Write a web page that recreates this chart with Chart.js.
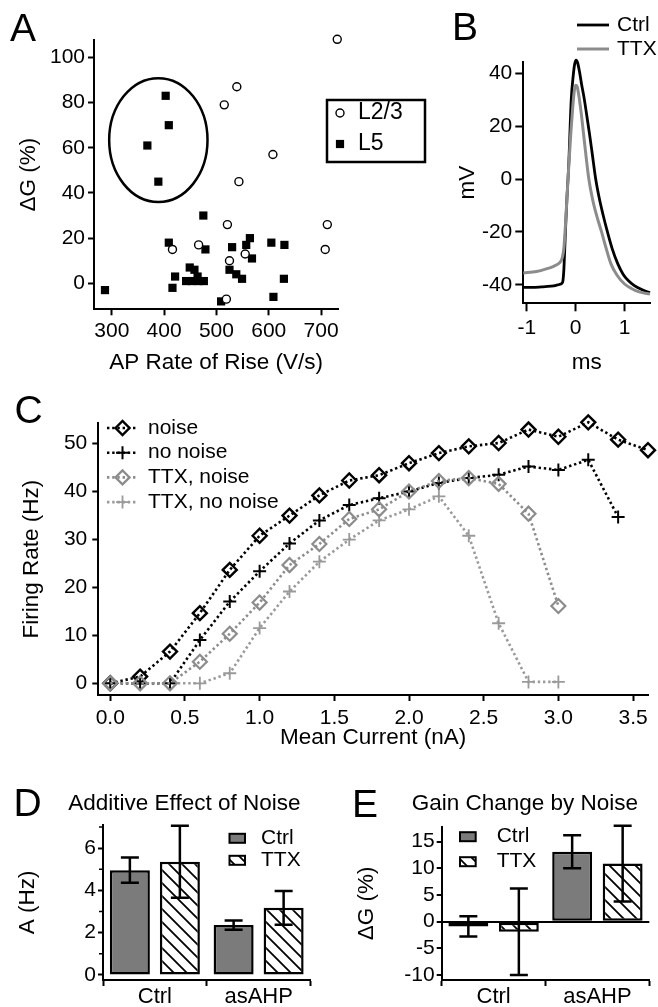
<!DOCTYPE html>
<html><head><meta charset="utf-8">
<script src="https://cdn.jsdelivr.net/npm/chart.js@4.4.0/dist/chart.umd.min.js"></script>
<style>
html,body{margin:0;padding:0;background:#fff;}
#wrap{position:relative;width:658px;height:1007px;overflow:hidden;font-family:'Liberation Sans',Arial,Helvetica,sans-serif;color:#000;}
canvas{position:absolute;}
.lbl{position:absolute;line-height:1;white-space:nowrap;}
</style></head><body>
<div id="wrap">
<canvas id="cA" width="432" height="380" style="left:0px;top:0px"></canvas>
<canvas id="cB" width="218" height="380" style="left:440px;top:0px"></canvas>
<canvas id="cC" width="658" height="380" style="left:0px;top:380px"></canvas>
<canvas id="cD" width="330" height="247" style="left:0px;top:760px"></canvas>
<canvas id="cE" width="323" height="247" style="left:335px;top:760px"></canvas>
<div class="lbl" style="left:10px;top:8px;font-size:39px">A</div>
<div class="lbl" style="left:452px;top:6.6px;font-size:39px">B</div>
<div class="lbl" style="left:14.5px;top:390px;font-size:39px">C</div>
<div class="lbl" style="left:13.6px;top:783px;font-size:39px">D</div>
<div class="lbl" style="left:352px;top:784px;font-size:39px">E</div>
<div class="lbl" style="left:68.3px;top:792.3px;font-size:22.5px">Additive Effect of Noise</div>
<div class="lbl" style="left:411.7px;top:792.3px;font-size:22.5px">Gain Change by Noise</div>
</div>
<script>
// ---------- Panel A data ----------
const aL23X = [731, 539, 515, 608, 543, 521, 712, 708, 416, 466, 525, 555, 519];
const aL23Y = [108, 87, 79, 57, 45, 26, 26, 15, 15, 17, 10, 13, -7];
const aL5X = [403, 409, 368, 389, 475, 409, 479, 530, 557, 564, 568, 605, 630, 525, 538, 549, 629, 609, 509, 287, 421, 416, 449, 458, 464, 442, 453, 466, 476];
const aL5Y = [83, 70, 61, 45, 30, 18, 15, 16, 17, 20, 11, 18, 17, 6, 4, 2, 2, -6, -8, -3, 3, -2, 7, 6, 3, 1, 1, 1, 1];
const aXTicks = [300, 400, 500, 600, 700];
const aYTicks = [0, 20, 40, 60, 80, 100];
// ---------- Panel B data ----------
const bCtrlT = [-1.07,-0.9,-0.7,-0.5,-0.4,-0.32,-0.28,-0.26,-0.24,-0.22,-0.2,-0.18,-0.14,-0.09,-0.05,-0.02,0.01,0.04,0.08,0.12,0.17,0.22,0.28,0.34,0.41,0.48,0.56,0.65,0.75,0.86,0.97,1.08,1.2,1.35,1.52];
const bCtrlV = [-41,-41,-40.8,-40.5,-40.2,-39.8,-39.4,-38.5,-34,-25,-16,-8,6,30,39,43.5,45,44,40.5,36,31,25,17.5,9.5,0,-7,-13.5,-20,-26.5,-32,-36,-38.5,-40.3,-41.8,-43];
const bTtxT = [-1.07,-0.8,-0.6,-0.45,-0.35,-0.3,-0.27,-0.24,-0.21,-0.18,-0.14,-0.1,-0.06,-0.03,0.0,0.03,0.07,0.12,0.18,0.27,0.35,0.44,0.53,0.62,0.72,0.85,1.0,1.15,1.3,1.52];
const bTtxV = [-35.5,-35,-34,-33,-32,-31,-29.5,-26,-18,-8,5,17,27,33,35.5,35,31,24,14,0,-8,-14.5,-20,-26,-32,-36.5,-39.7,-41.5,-42.7,-43.5];
const bXTicks = [-1, 0, 1];
const bYTicks = [-40, -20, 0, 20, 40];
// ---------- Panel C data ----------
const cCurrent = [0,0.2,0.4,0.6,0.8,1.0,1.2,1.4,1.6,1.8,2.0,2.2,2.4,2.6,2.8,3.0,3.2,3.4,3.6];
const cNoise = [0,1.4,6.6,14.6,23.6,30.7,34.9,39.1,42.2,43.3,45.8,47.9,49.3,50.0,52.8,51.3,54.3,50.7,48.5];
const cNoNoise = [0,0,0,9,17.0,23.3,29.1,33.9,37.1,38.5,39.9,41.7,42.7,43.4,45.1,44.4,46.5,34.6];
const cTtxNoise = [0,0,0,4.5,10.3,16.8,24.6,29.0,34.2,36.2,39.9,42.1,42.7,41.5,35.3,16.1];
const cTtxNoNoise = [0,0,0,0,2.1,11.5,19.1,25.3,29.9,33.9,36.2,38.9,30.7,12.5,0.3,0.3];
const cXTicks = [0,0.5,1.0,1.5,2.0,2.5,3.0,3.5];
const cYTicks = [0,10,20,30,40,50];
// ---------- Panel D / E data ----------
const groups = ['Ctrl', 'asAHP'];
const dCtrl = [4.96, 2.36];
const dCtrlErr = [0.6, 0.22];
const dTtx = [5.36, 3.18];
const dTtxErr = [1.7, 0.8];
const dYTicks = [0, 2, 4, 6];
const dMinor = [1, 3, 5, 7];
const eCtrl = [-0.9, 13.1];
const eCtrlErr = [1.9, 3.1];
const eTtx = [-1.9, 10.9];
const eTtxErr = [8.1, 7.1];
const eYTicks = [-10, -5, 0, 5, 10, 15];

// ---------- helpers ----------
Chart.defaults.font.family = "'Liberation Sans', Arial, Helvetica, sans-serif";
Chart.defaults.color = '#000';
const TICK_FONT = {size: 21, lineHeight: 1.2};
const TITLE_FONT = {size: 22.5, lineHeight: 1};
const GREY1 = '#8c8c8c', GREY2 = '#9a9a9a', BAR_GREY = '#7b7b7b';

function axisStyle(tl) {
  return {
    grid: {display: true, drawOnChartArea: false, drawTicks: true, tickLength: tl, tickWidth: 2, tickColor: '#000'},
    border: {display: true, color: '#000', width: 2}
  };
}
function setTicks(vals) { return a => { a.ticks = vals.map(v => ({value: v})); }; }
function fixW(w) { return a => { a.width = w; }; }
function fixH(h) { return a => { a.height = h; }; }
function xy(xs, ys) { return ys.map((y, i) => ({x: xs[i], y})); }

function marker(ctx, style, x, y, r, stroke, fill, lw) {
  ctx.save(); ctx.setLineDash([]); ctx.lineWidth = lw; ctx.strokeStyle = stroke; ctx.fillStyle = fill;
  ctx.beginPath();
  if (style === 'circle') ctx.arc(x, y, r, 0, 2 * Math.PI);
  else if (style === 'rect') { const s = r * Math.SQRT1_2; ctx.rect(x - s, y - s, 2 * s, 2 * s); }
  else if (style === 'rectRot') { ctx.moveTo(x - r, y); ctx.lineTo(x, y - r); ctx.lineTo(x + r, y); ctx.lineTo(x, y + r); ctx.closePath(); }
  else if (style === 'cross') { ctx.moveTo(x, y - r); ctx.lineTo(x, y + r); ctx.moveTo(x - r, y); ctx.lineTo(x + r, y); }
  if (style !== 'cross') ctx.fill();
  if (lw > 0) ctx.stroke();
  ctx.restore();
}

const customLegend = {
  id: 'customLegend',
  afterDraw(chart, args, o) {
    if (!o || !o.items) return;
    const ctx = chart.ctx; ctx.save();
    if (o.box) { ctx.lineWidth = o.box.lw; ctx.strokeStyle = '#000'; ctx.strokeRect(o.box.x, o.box.y, o.box.w, o.box.h); }
    ctx.font = o.font; ctx.textBaseline = 'middle'; ctx.textAlign = 'left';
    o.items.forEach((it, k) => {
      const ds = chart.data.datasets[it.ds];
      const y = o.y + k * o.dy, cx = (o.x0 + o.x1) / 2;
      if (it.kind === 'line' || it.kind === 'linepoint') {
        ctx.save(); ctx.strokeStyle = ds.borderColor; ctx.lineWidth = ds.borderWidth; ctx.setLineDash(ds.borderDash || []);
        ctx.beginPath(); ctx.moveTo(o.x0, y); ctx.lineTo(o.x1, y); ctx.stroke(); ctx.restore();
      }
      if (it.kind === 'point' || it.kind === 'linepoint') {
        marker(ctx, ds.pointStyle, cx, y, ds.pointRadius, ds.pointBorderColor, ds.pointBackgroundColor, ds.pointBorderWidth);
      }
      if (it.kind === 'bar') {
        ctx.save(); ctx.fillStyle = ds.backgroundColor; ctx.strokeStyle = '#000'; ctx.lineWidth = 2;
        ctx.fillRect(o.x0, y - o.bh / 2, o.x1 - o.x0, o.bh); ctx.strokeRect(o.x0, y - o.bh / 2, o.x1 - o.x0, o.bh); ctx.restore();
      }
      ctx.fillStyle = '#000'; ctx.fillText(ds.label, o.textX, y);
    });
    ctx.restore();
  }
};

const ellipsePlugin = {
  id: 'ellipse',
  afterDatasetsDraw(chart, args, o) {
    if (!o || o.cx === undefined) return;
    const xs = chart.scales.x, ys = chart.scales.y, ctx = chart.ctx;
    const px = xs.getPixelForValue(o.cx), py = ys.getPixelForValue(o.cy);
    const rx = Math.abs(xs.getPixelForValue(o.cx + o.rx) - px), ry = Math.abs(ys.getPixelForValue(o.cy + o.ry) - py);
    ctx.save(); ctx.strokeStyle = '#000'; ctx.lineWidth = o.lw;
    ctx.beginPath(); ctx.ellipse(px, py, rx, ry, 0, 0, 2 * Math.PI); ctx.stroke(); ctx.restore();
  }
};

const errorBars = {
  id: 'errorBars',
  afterDatasetsDraw(chart, args, o) {
    const ctx = chart.ctx, ys = chart.scales.y;
    chart.data.datasets.forEach((ds, i) => {
      if (!ds.errors) return;
      chart.getDatasetMeta(i).data.forEach((bar, j) => {
        const v = ds.data[j], e = ds.errors[j];
        const yt = ys.getPixelForValue(v + e), yb = ys.getPixelForValue(v - e);
        ctx.save(); ctx.strokeStyle = '#000'; ctx.lineWidth = o.lw; ctx.beginPath();
        ctx.moveTo(bar.x, yt); ctx.lineTo(bar.x, yb);
        ctx.moveTo(bar.x - o.cap / 2, yt); ctx.lineTo(bar.x + o.cap / 2, yt);
        ctx.moveTo(bar.x - o.cap / 2, yb); ctx.lineTo(bar.x + o.cap / 2, yb);
        ctx.stroke(); ctx.restore();
      });
    });
  }
};

const minorTicks = {
  id: 'minorTicks',
  afterDraw(chart, args, o) {
    if (!o || !o.values) return;
    const ctx = chart.ctx, ys = chart.scales.y, x = chart.chartArea.left - 1;
    ctx.save(); ctx.strokeStyle = '#000'; ctx.lineWidth = 1.5; ctx.beginPath();
    o.values.forEach(v => { const y = ys.getPixelForValue(v); ctx.moveTo(x, y); ctx.lineTo(x - o.len, y); });
    ctx.stroke(); ctx.restore();
  }
};

function hatchPattern() {
  const n = 13, c = document.createElement('canvas'); c.width = n; c.height = n;
  const g = c.getContext('2d'); g.fillStyle = '#fff'; g.fillRect(0, 0, n, n);
  g.strokeStyle = '#000'; g.lineWidth = 1.8; g.beginPath();
  g.moveTo(-3, -3); g.lineTo(n + 3, n + 3);
  g.moveTo(-3, n - 3); g.lineTo(3, n + 3);
  g.moveTo(n - 3, -3); g.lineTo(n + 3, 3);
  g.stroke();
  return g.createPattern(c, 'repeat');
}
const HATCH = hatchPattern();

const baseOpts = {responsive: false, devicePixelRatio: 1, animation: false};
const noPlug = {legend: {display: false}, tooltip: {enabled: false}};

// ---------- Chart A ----------
new Chart(document.getElementById('cA'), {
  type: 'scatter',
  data: {datasets: [
    {label: 'L5', data: xy(aL5X, aL5Y), pointStyle: 'rect', pointRadius: 5.8, pointBackgroundColor: '#000', pointBorderColor: '#000', pointBorderWidth: 0, clip: false, order: 2},
    {label: 'L2/3', data: xy(aL23X, aL23Y), pointStyle: 'circle', pointRadius: 4, pointBackgroundColor: '#fff', pointBorderColor: '#000', pointBorderWidth: 1.4, clip: false, order: 1}
  ]},
  options: Object.assign({}, baseOpts, {
    layout: {padding: {left: 0, top: 40, right: 93.7, bottom: 0}},
    plugins: Object.assign({}, noPlug, {
      ellipse: {cx: 389, cy: 63.4, rx: 94, ry: 27.4, lw: 2.5},
      customLegend: {box: {x: 327, y: 100, w: 98, h: 62, lw: 2.5}, items: [{ds: 1, kind: 'point'}, {ds: 0, kind: 'point'}],
        x0: 334, x1: 346, y: 113, dy: 31, textX: 358, font: "23px 'Liberation Sans', Arial, sans-serif"}
    }),
    scales: {
      x: Object.assign({type: 'linear', min: 266, max: 733, afterFit: fixH(70.7), afterBuildTicks: setTicks(aXTicks),
        ticks: {font: TICK_FONT, padding: 3, maxRotation: 0, autoSkip: false},
        title: {display: true, text: 'AP Rate of Rise (V/s)', font: TITLE_FONT, padding: {top: 0, bottom: 5.75}}}, axisStyle(6)),
      y: Object.assign({type: 'linear', min: -11.5, max: 107.7, afterFit: fixW(94), afterBuildTicks: setTicks(aYTicks),
        ticks: {font: TICK_FONT, padding: 3, autoSkip: false},
        title: {display: true, text: 'ΔG (%)', font: TITLE_FONT, padding: {top: 17.25, bottom: 0}}}, axisStyle(6))
    }
  }),
  plugins: [ellipsePlugin, customLegend]
});

// ---------- Chart B ----------
new Chart(document.getElementById('cB'), {
  type: 'scatter',
  data: {datasets: [
    {label: 'Ctrl', data: xy(bCtrlT, bCtrlV), showLine: true, borderColor: '#000', borderWidth: 2.8, pointRadius: 0, cubicInterpolationMode: 'monotone', clip: false, order: 2},
    {label: 'TTX', data: xy(bTtxT, bTtxV), showLine: true, borderColor: GREY1, borderWidth: 3, pointRadius: 0, cubicInterpolationMode: 'monotone', clip: false, order: 1}
  ]},
  options: Object.assign({}, baseOpts, {
    layout: {padding: {left: 0, top: 61.7, right: 8, bottom: 0}},
    plugins: Object.assign({}, noPlug, {
      customLegend: {items: [{ds: 0, kind: 'line'}, {ds: 1, kind: 'line'}], x0: 137, x1: 169, y: 25, dy: 24, textX: 177,
        font: "21px 'Liberation Sans', Arial, sans-serif"}
    }),
    scales: {
      x: Object.assign({type: 'linear', min: -1.07, max: 1.52, afterFit: fixH(76.7), afterBuildTicks: setTicks(bXTicks),
        ticks: {font: TICK_FONT, padding: 4, maxRotation: 0, autoSkip: false},
        title: {display: true, text: 'ms', font: TITLE_FONT, padding: {top: 0, bottom: 5.75}}}, axisStyle(8)),
      y: Object.assign({type: 'linear', min: -47, max: 44.4, afterFit: fixW(83.3), afterBuildTicks: setTicks(bYTicks),
        ticks: {font: TICK_FONT, padding: 3, autoSkip: false},
        title: {display: true, text: 'mV', font: TITLE_FONT, padding: {top: 16.75, bottom: 0}}}, axisStyle(8))
    }
  }),
  plugins: [customLegend]
});

// ---------- Chart C ----------
const dotted = [2.4, 2.8];
new Chart(document.getElementById('cC'), {
  type: 'scatter',
  data: {datasets: [
    {label: 'noise', data: xy(cCurrent, cNoise), showLine: true, borderColor: '#000', borderWidth: 2.6, borderDash: dotted,
      pointStyle: 'rectRot', pointRadius: 7, pointBorderWidth: 2.4, pointBorderColor: '#000', pointBackgroundColor: 'rgba(0,0,0,0)', clip: false, order: 1},
    {label: 'no noise', data: xy(cCurrent, cNoNoise), showLine: true, borderColor: '#000', borderWidth: 2.6, borderDash: dotted,
      pointStyle: 'cross', pointRadius: 6.5, pointBorderWidth: 2, pointBorderColor: '#000', pointBackgroundColor: 'rgba(0,0,0,0)', clip: false, order: 2},
    {label: 'TTX, noise', data: xy(cCurrent, cTtxNoise), showLine: true, borderColor: GREY1, borderWidth: 2.6, borderDash: dotted,
      pointStyle: 'rectRot', pointRadius: 7, pointBorderWidth: 2.2, pointBorderColor: GREY1, pointBackgroundColor: 'rgba(0,0,0,0)', clip: false, order: 0},
    {label: 'TTX, no noise', data: xy(cCurrent, cTtxNoNoise), showLine: true, borderColor: GREY2, borderWidth: 2.6, borderDash: dotted,
      pointStyle: 'cross', pointRadius: 6.5, pointBorderWidth: 1.8, pointBorderColor: GREY2, pointBackgroundColor: 'rgba(0,0,0,0)', clip: false, order: 3}
  ]},
  options: Object.assign({}, baseOpts, {
    layout: {padding: {left: 0, top: 43.3, right: 10, bottom: 0}},
    plugins: Object.assign({}, noPlug, {
      customLegend: {items: [{ds: 0, kind: 'linepoint'}, {ds: 1, kind: 'linepoint'}, {ds: 2, kind: 'linepoint'}, {ds: 3, kind: 'linepoint'}],
        x0: 107, x1: 138, y: 48, dy: 24.7, textX: 148, font: "21px 'Liberation Sans', Arial, sans-serif"}
    }),
    scales: {
      x: Object.assign({type: 'linear', min: -0.08, max: 3.6, afterFit: fixH(65), afterBuildTicks: setTicks(cXTicks),
        ticks: {font: TICK_FONT, padding: 4.7, maxRotation: 0, autoSkip: false, callback: v => Number(v).toFixed(1)},
        title: {display: true, text: 'Mean Current (nA)', font: TITLE_FONT, padding: {top: 0, bottom: 10.75}}}, axisStyle(6)),
      y: Object.assign({type: 'linear', min: -2.43, max: 54.1, afterFit: fixW(98.3), afterBuildTicks: setTicks(cYTicks),
        ticks: {font: TICK_FONT, padding: 5, autoSkip: false},
        title: {display: true, text: 'Firing Rate (Hz)', font: TITLE_FONT, padding: {top: 20.4, bottom: 0}}}, axisStyle(6))
    }
  }),
  plugins: [customLegend]
});

// ---------- Chart D ----------
new Chart(document.getElementById('cD'), {
  type: 'bar',
  data: {labels: groups, datasets: [
    {label: 'Ctrl', data: dCtrl, errors: dCtrlErr, backgroundColor: BAR_GREY, borderColor: '#000', borderWidth: 2.5, borderSkipped: false},
    {label: 'TTX', data: dTtx, errors: dTtxErr, backgroundColor: HATCH, borderColor: '#000', borderWidth: 2.5, borderSkipped: false}
  ]},
  options: Object.assign({}, baseOpts, {
    datasets: {bar: {categoryPercentage: 0.964, barPercentage: 0.8}},
    layout: {padding: {left: 0, top: 65, right: 19.5, bottom: 0}},
    plugins: Object.assign({}, noPlug, {
      errorBars: {lw: 2.5, cap: 18},
      minorTicks: {values: dMinor, len: 3},
      customLegend: {items: [{ds: 0, kind: 'bar'}, {ds: 1, kind: 'bar'}], x0: 229.5, x1: 245, bh: 9, y: 78.3, dy: 22, textX: 261,
        font: "21px 'Liberation Sans', Arial, sans-serif"}
    }),
    scales: {
      x: Object.assign({type: 'category', offset: true, afterFit: fixH(27),
        ticks: {font: {size: 22, lineHeight: 1}, padding: 0, maxRotation: 0, autoSkip: false}}, axisStyle(6)),
      y: Object.assign({type: 'linear', min: -0.24, max: 7.1, afterFit: fixW(103), afterBuildTicks: setTicks(dYTicks),
        ticks: {font: TICK_FONT, padding: 2, autoSkip: false},
        title: {display: true, text: 'A (Hz)', font: TITLE_FONT, padding: {top: 16.75, bottom: 0}}}, axisStyle(5))
    }
  }),
  plugins: [errorBars, minorTicks, customLegend]
});

// ---------- Chart E ----------
(function(){
  const eY = Object.assign({type: 'linear', min: -10.94, max: 17.8, afterFit: fixW(106.7), afterBuildTicks: setTicks(eYTicks),
    ticks: {font: TICK_FONT, padding: 2, autoSkip: false},
    title: {display: true, text: 'ΔG (%)', font: TITLE_FONT, padding: {top: 20.45, bottom: 0}}}, axisStyle(5));
  eY.grid = Object.assign({}, eY.grid, {drawOnChartArea: true, lineWidth: 2,
    color: c => (c.tick && c.tick.value === 0) ? '#000' : 'rgba(0,0,0,0)'});
  new Chart(document.getElementById('cE'), {
    type: 'bar',
    data: {labels: groups, datasets: [
      {label: 'Ctrl', data: eCtrl, errors: eCtrlErr, backgroundColor: BAR_GREY, borderColor: '#000', borderWidth: 2.5, borderSkipped: false},
      {label: 'TTX', data: eTtx, errors: eTtxErr, backgroundColor: HATCH, borderColor: '#000', borderWidth: 2.5, borderSkipped: false}
    ]},
    options: Object.assign({}, baseOpts, {
      datasets: {bar: {categoryPercentage: 0.973, barPercentage: 0.79}},
      layout: {padding: {left: 0, top: 66.7, right: 8.7, bottom: 0}},
      plugins: Object.assign({}, noPlug, {
        errorBars: {lw: 2.5, cap: 18},
        customLegend: {items: [{ds: 0, kind: 'bar'}, {ds: 1, kind: 'bar'}], x0: 125, x1: 140.7, bh: 9, y: 76.7, dy: 25, textX: 161.7,
          font: "21px 'Liberation Sans', Arial, sans-serif"}
      }),
      scales: {
        x: Object.assign({type: 'category', offset: true, afterFit: fixH(27),
          ticks: {font: {size: 22, lineHeight: 1}, padding: 0, maxRotation: 0, autoSkip: false}}, axisStyle(6)),
        y: eY
      }
    }),
    plugins: [errorBars, customLegend]
  });
})();
</script>
</body></html>
